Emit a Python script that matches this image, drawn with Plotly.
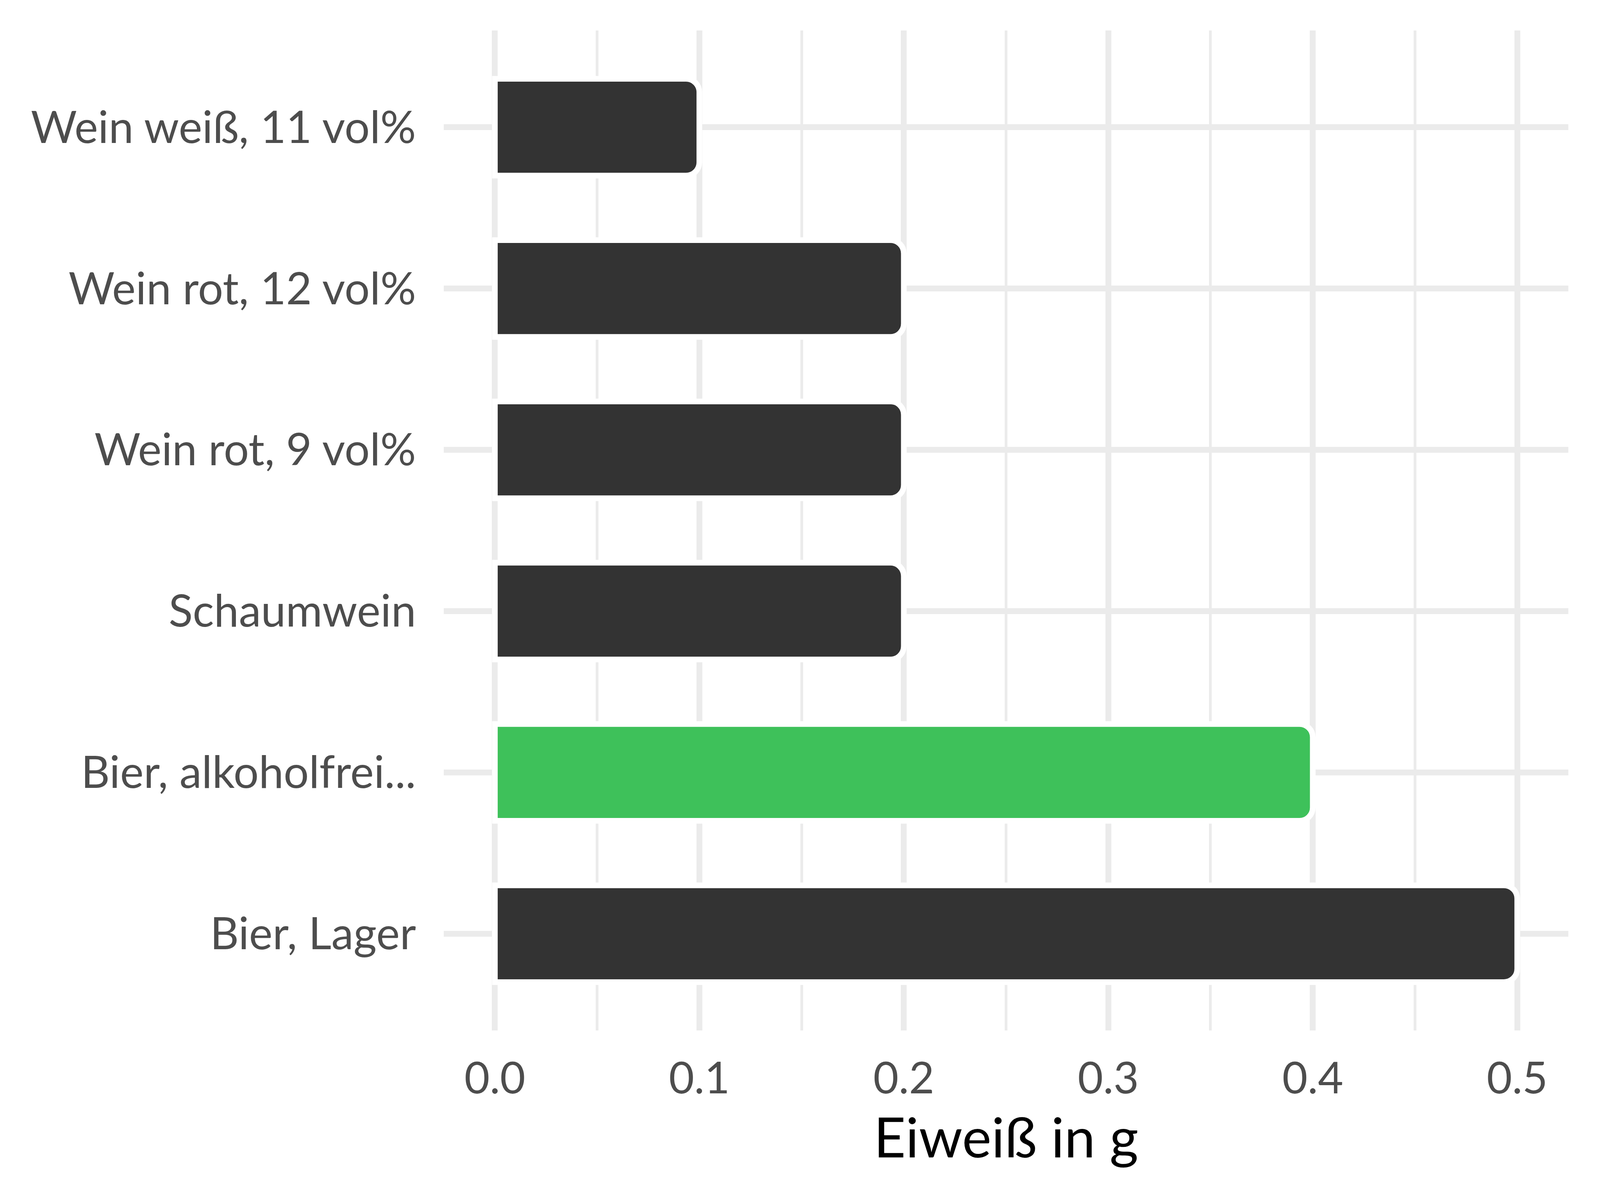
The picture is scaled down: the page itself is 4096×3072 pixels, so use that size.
import plotly.graph_objects as go

categories = ["Bier, Lager", "Bier, alkoholfrei...", "Schaumwein",
              "Wein rot, 9 vol%", "Wein rot, 12 vol%", "Wein weiß, 11 vol%"]
values = [0.5, 0.4, 0.2, 0.2, 0.2, 0.1]
colors = ["#333333", "#3EC15A", "#333333", "#333333", "#333333", "#333333"]
x_ticks = [0.0, 0.1, 0.2, 0.3, 0.4, 0.5]
x_ticklabels = ["0.0", "0.1", "0.2", "0.3", "0.4", "0.5"]
x_title = "Eiweiß in g"

FONT = "Lato, 'Open Sans', sans-serif"
GRID = "#EBEBEB"

fig = go.Figure(go.Bar(
    x=values, y=categories, orientation="h", width=0.6,
    marker=dict(color=colors, line=dict(color="white", width=14.5), cornerradius=34),
    hoverinfo="x+y",
))

fig.update_layout(
    width=4088, height=3064,
    margin=dict(l=1128, r=81, t=70, b=434, autoexpand=False),
    paper_bgcolor="white", plot_bgcolor="white",
    showlegend=False,
    font=dict(family=FONT, color="#4D4D4D", size=110),
)
fig.update_xaxes(
    range=[-0.025, 0.525], tickvals=x_ticks, ticktext=x_ticklabels,
    showgrid=True, gridcolor=GRID, gridwidth=14.5, zeroline=False, showline=False,
    ticks="", ticklabelstandoff=48,
    tickfont=dict(family=FONT, size=112, color="#4D4D4D"),
    minor=dict(dtick=0.05, tick0=0, showgrid=True, gridcolor=GRID, gridwidth=7),
    title=dict(text=x_title, font=dict(family=FONT, size=142, color="#000000"), standoff=38),
)
fig.update_yaxes(
    type="category", categoryorder="array", categoryarray=categories,
    range=[-0.6, 5.6],
    showgrid=True, gridcolor=GRID, gridwidth=14.5, zeroline=False, showline=False,
    ticks="", ticklabelstandoff=70,
    tickfont=dict(family=FONT, size=114, color="#4D4D4D"),
)

fig.write_html("out.html")
